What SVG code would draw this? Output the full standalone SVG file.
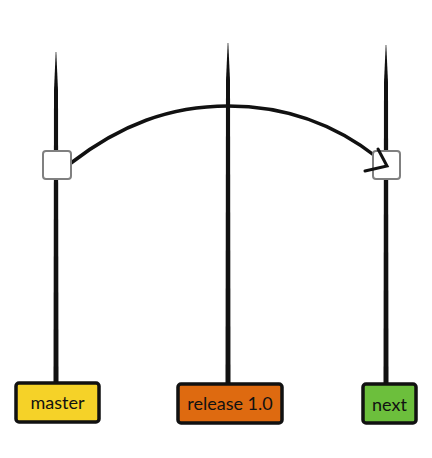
<svg xmlns="http://www.w3.org/2000/svg" width="432" height="458" viewBox="0 0 432 458">
<style>
.branch{fill:#111;stroke:none}
.commit{fill:#fff;stroke:#808080;stroke-width:2}
.label{stroke:#111;stroke-width:3.5;stroke-linejoin:round}
.txt{font-family:Lato,"Open Sans",sans-serif;font-size:18px;fill:#111;text-anchor:middle}
.edge{fill:none;stroke:#111;stroke-linecap:round}
</style>
<rect width="432" height="458" fill="#fff"/>
<g id="connectors">
<path class="branch" d="M55.7,52 L56.3,52 L58,90 L58.5,383 L53.5,383 L54,90 Z"/>
<path class="branch" d="M227.7,43 L228.3,43 L230,80 L230.5,383 L225.5,383 L226,80 Z"/>
<path class="branch" d="M385.7,45 L386.3,45 L388,82 L388.5,383 L383.5,383 L384,82 Z"/>
<path class="edge" d="M71,163 C120,125 170,106 228,106 C290,106 340,128 378,158" stroke-width="3.5"/>
</g>
<g id="commit1"><rect class="commit" x="43" y="151" width="28" height="28" rx="3"/></g>
<g id="commit2"><rect class="commit" x="373" y="151" width="27" height="28" rx="3"/></g>
<g id="arrowhead">
<path class="edge" d="M378,149 L387,166 L365,171" stroke-width="3"/>
</g>
<g id="master">
<rect class="label" x="16" y="383" width="83" height="39" rx="3" fill="#f5d228"/>
<text class="txt" x="57.5" y="409">master</text>
</g>
<g id="release">
<rect class="label" x="178" y="384" width="104" height="39" rx="3" fill="#de6a10"/>
<text class="txt" x="230" y="410">release 1.0</text>
</g>
<g id="next">
<rect class="label" x="363" y="384" width="53" height="39" rx="3" fill="#6cbf3c"/>
<text class="txt" x="389.5" y="411">next</text>
</g>
</svg>
